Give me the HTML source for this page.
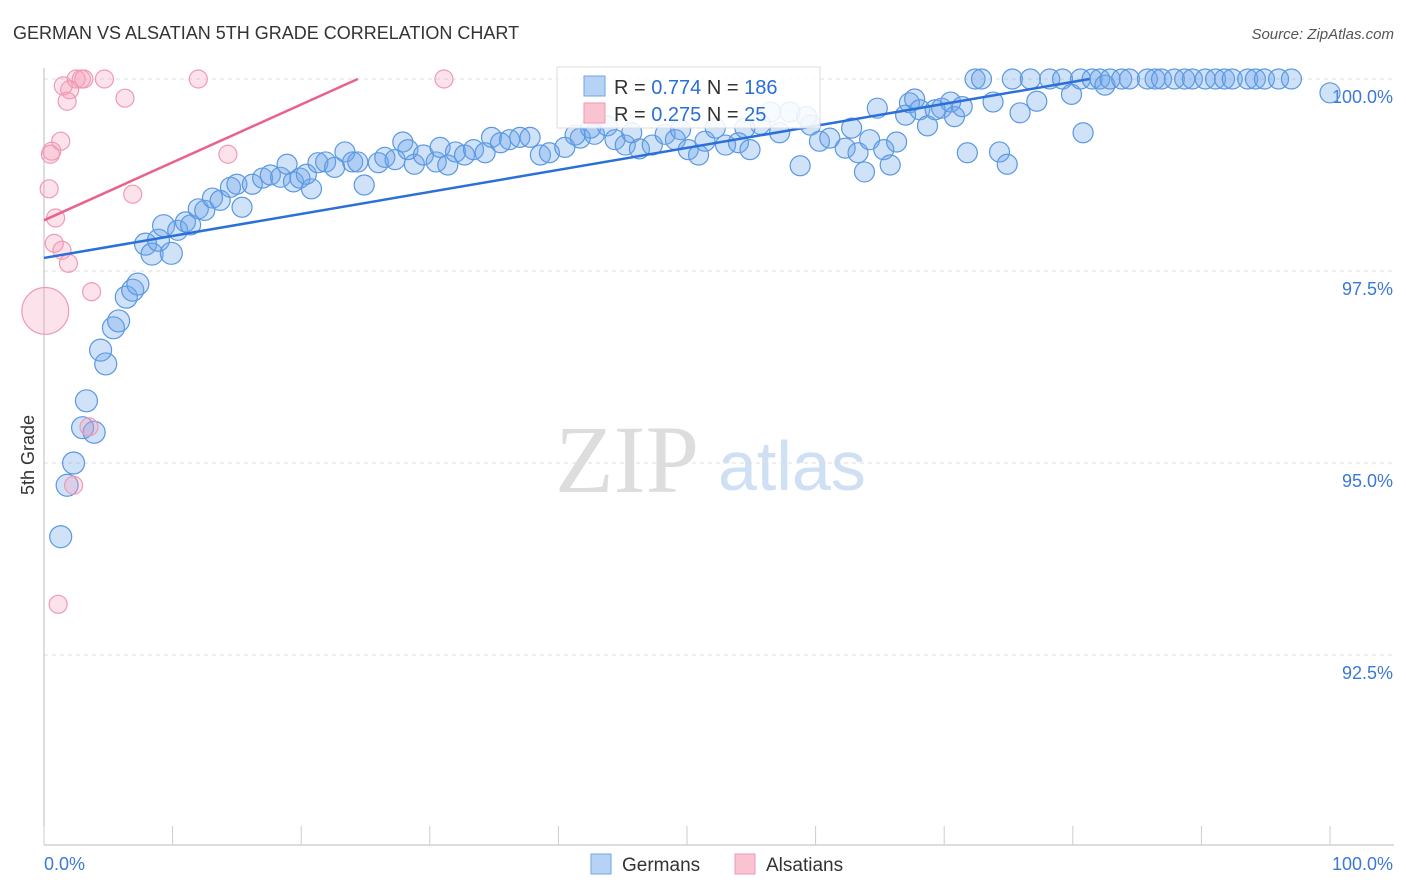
<!DOCTYPE html>
<html><head><meta charset="utf-8"><style>
body{margin:0;background:#fff;font-family:"Liberation Sans",sans-serif}
svg{display:block}
</style></head><body>
<svg width="1406" height="892">
<text x="13" y="39" font-size="18" fill="#333">GERMAN VS ALSATIAN 5TH GRADE CORRELATION CHART</text>
<text x="1394" y="39" font-size="15" fill="#555" font-style="italic" text-anchor="end">Source: ZipAtlas.com</text>
<text x="34" y="455" font-size="18" fill="#333" transform="rotate(-90 34 455)" text-anchor="middle">5th Grade</text>
<text x="555" y="492" font-size="96" fill="#ddd" font-family="Liberation Serif">ZIP</text>
<text x="718" y="490" font-size="70" fill="#cfe0f4">atlas</text>
<g id="grid"></g>
<g id="axes"></g>
<g id="pts"></g>
<g id="lines"></g>
<g>
<rect x="557" y="67" width="263" height="61" fill="#fff" fill-opacity="0.85" stroke="#ddd"/>
<rect x="584" y="76" width="21" height="20" fill="#b6d2f4" stroke="#6fa6e6"/>
<rect x="584" y="103" width="21" height="20" fill="#f9c3d2" stroke="#ee9ab2"/>
<text x="614" y="94" font-size="20" fill="#333">R = <tspan fill="#2a6fd6">0.774</tspan>   N = <tspan fill="#2a6fd6">186</tspan></text>
<text x="614" y="121" font-size="20" fill="#333">R = <tspan fill="#2a6fd6">0.275</tspan>   N = <tspan fill="#2a6fd6"> 25</tspan></text>
</g>
<g>
<rect x="591" y="854" width="20" height="20" fill="#b6d2f4" stroke="#6fa6e6"/>
<text x="622" y="871" font-size="19" fill="#333">Germans</text>
<rect x="735" y="854" width="20" height="20" fill="#f9c3d2" stroke="#ee9ab2"/>
<text x="766" y="871" font-size="19" fill="#333">Alsatians</text>
</g>
</svg>
<script>
const yTicks=[100,97.5,95,92.5];
const yTickLabels=["100.0%","97.5%","95.0%","92.5%"];
const xTickLabels=["0.0%","100.0%"];
const gerX=[1.3,1.8,2.3,3.0,3.9,3.3,4.8,4.4,5.4,5.8,6.4,6.9,7.3,7.9,8.4,8.9,9.9,9.3,10.4,11.0,11.4,12.0,12.5,13.1,13.7,14.5,15.0,15.4,16.2,17.0,17.6,18.4,19.4,19.9,20.8,20.4,18.9,21.3,21.9,22.6,23.4,24.0,24.4,24.9,26.0,26.5,27.3,27.9,28.8,28.3,29.5,30.5,30.8,31.4,32.0,32.7,33.4,34.3,34.8,35.5,36.2,37.0,37.8,38.6,39.3,40.5,41.7,42.8,43.8,44.4,45.2,45.7,46.3,47.3,48.3,49.1,50.1,50.9,51.4,52.2,53.0,54.0,54.9,57.2,58.0,58.8,59.6,60.3,61.1,62.3,62.8,63.3,63.8,64.2,64.8,65.3,65.8,66.3,67.0,67.3,67.7,68.1,68.7,69.3,69.8,70.5,70.8,71.4,71.8,72.4,72.9,73.8,74.3,74.9,75.3,75.9,76.7,77.2,78.2,79.2,79.9,80.6,80.8,81.5,82.1,82.5,82.9,83.8,84.4,85.8,86.4,86.9,87.9,88.7,89.3,90.3,91.1,91.8,92.4,93.6,94.2,94.9,96.0,97.0,100,41.3,42.5,55.7,56.5,59.3,54.5,49.5];
const gerY=[94.04,94.71,95.0,95.46,95.40,95.81,96.29,96.47,96.76,96.85,97.16,97.25,97.33,97.85,97.72,97.90,97.73,98.09,98.03,98.14,98.10,98.31,98.29,98.45,98.42,98.59,98.63,98.33,98.63,98.71,98.75,98.72,98.66,98.71,98.57,98.76,98.89,98.91,98.92,98.85,99.05,98.92,98.92,98.62,98.91,98.98,98.95,99.18,98.89,99.08,99.01,98.92,99.11,98.88,99.05,99.01,99.08,99.04,99.24,99.17,99.21,99.24,99.24,99.01,99.04,99.11,99.23,99.28,99.39,99.21,99.14,99.30,99.09,99.14,99.28,99.21,99.08,99.01,99.19,99.36,99.14,99.17,99.08,99.30,99.57,98.87,99.40,99.19,99.23,99.10,99.36,99.04,98.79,99.21,99.62,99.08,98.88,99.18,99.53,99.69,99.74,99.60,99.39,99.60,99.62,99.70,99.51,99.64,99.04,100,100,99.70,99.05,98.89,100,99.56,100,99.71,100,100,99.80,100,99.30,100,100,99.92,100,100,100,100,100,100,100,100,100,100,100,100,100,100,100,100,100,100,99.82,99.27,99.36,99.41,99.57,99.51,99.36,99.34];
const alsX=[1.5,2.0,1.8,2.5,2.9,3.1,4.7,6.3,12.0,31.1,1.3,0.6,0.5,0.4,14.3,6.9,0.9,0.8,1.4,1.9,3.7,0.1,3.5,2.3,1.1];
const alsY=[99.91,99.86,99.71,100,100,100,100,99.75,100,100,99.19,99.06,99.02,98.57,99.02,98.50,98.19,97.86,97.77,97.60,97.23,96.98,95.47,94.71,93.16];
const alsSize=[1,1,1,1,1,1,1,1,1,1,1,1,1,1,1,1,1,1,1,1,1,2.6,1,1,1];
const gerTrend=[[0,97.67],[81.3,100]];
const alsTrend=[[0,98.16],[24.4,100]];
const NS="http://www.w3.org/2000/svg";
const X=v=>44+v*12.86, Y=v=>79+(100-v)*76.8;
function mk(t,a,p){const e=document.createElementNS(NS,t);for(const k in a)e.setAttribute(k,a[k]);document.getElementById(p).appendChild(e);return e;}
yTicks.forEach((t,i)=>{
 const l=mk('line',{x1:44,x2:1394,y1:Y(t),y2:Y(t),stroke:'#ddd','stroke-dasharray':'4 4'},'grid');
 
 
 const tx=mk('text',{x:1393,y:Y(t)+24,'font-size':18,fill:'#3b78d8','text-anchor':'end'},'grid');
 tx.textContent=yTickLabels[i];
 
 
});
const ax=mk('line',{x1:44,x2:44,y1:68,y2:845,stroke:'#bbb'},'axes');


const bx=mk('line',{x1:44,x2:1394,y1:845,y2:845,stroke:'#bbb'},'axes');


for(let i=0;i<=10;i++){const t=mk('line',{x1:X(i*10),x2:X(i*10),y1:826,y2:845,stroke:'#ccc'},'axes');
 
 }
[[0,'start'],[100,'end']].forEach((v,i)=>{const t=mk('text',{x:X(v[0])+(i?63:0),y:870,'font-size':18,fill:'#3b78d8','text-anchor':v[1]},'axes');t.textContent=xTickLabels[i];
 
 });
gerX.forEach((x,i)=>{const c=mk('circle',{cx:X(x),cy:Y(gerY[i]),r:i<18?11:10,fill:'rgba(110,165,232,0.32)',stroke:'#5a98e2','stroke-width':1.2},'pts');
 
 });
alsX.forEach((x,i)=>{const c=mk('circle',{cx:X(x),cy:Y(alsY[i]),r:9*alsSize[i],fill:'rgba(245,160,185,0.3)',stroke:'#ef9ab3','stroke-width':1.2},'pts');
 
 });
const gl=mk('line',{x1:X(gerTrend[0][0]),y1:Y(gerTrend[0][1]),x2:X(gerTrend[1][0]),y2:Y(gerTrend[1][1]),stroke:'#2a70d8','stroke-width':2.5},'lines');


const al=mk('line',{x1:X(alsTrend[0][0]),y1:Y(alsTrend[0][1]),x2:X(alsTrend[1][0]),y2:Y(alsTrend[1][1]),stroke:'#e8628a','stroke-width':2.5},'lines');


</script>
</body></html>
